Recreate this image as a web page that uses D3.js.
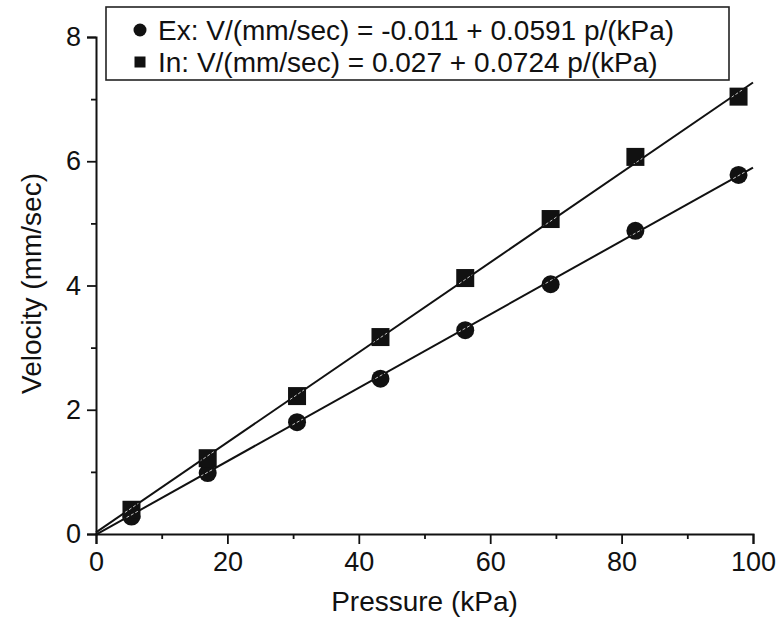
<!DOCTYPE html>
<html>
<head>
<meta charset="utf-8">
<script src="https://cdn.jsdelivr.net/npm/d3@7"></script>
<style>
  html, body { margin: 0; padding: 0; background: #fff; }
  svg { display: block; }
  text { font-family: "Liberation Sans", Arial, sans-serif; fill: #111; }
</style>
</head>
<body>
<svg id="chart" width="780" height="625"></svg>
<script>
// Measured pressure (kPa) and flow velocity (mm/sec)
const pressure = [5.4, 17.0, 30.6, 43.3, 56.2, 69.2, 82.1, 97.8];
const velocityEx = [0.28, 0.98, 1.80, 2.50, 3.28, 4.02, 4.88, 5.78];
const velocityIn = [0.39, 1.22, 2.22, 3.17, 4.12, 5.07, 6.07, 7.04];

// Linear fits: V = a + b p
const fitEx = { a: -0.011, b: 0.0591 };
const fitIn = { a: 0.027, b: 0.0724 };

const legendLabels = [
  "Ex: V/(mm/sec) = -0.011 + 0.0591 p/(kPa)",
  "In: V/(mm/sec) = 0.027 + 0.0724 p/(kPa)"
];

const xTicks = [0, 20, 40, 60, 80, 100];
const xMinor = [10, 30, 50, 70, 90];
const yTicks = [0, 2, 4, 6, 8];
const yMinor = [1, 3, 5, 7];

const svg = d3.select("#chart");
const x = d3.scaleLinear().domain([0, 100]).range([96, 753]);
const y = d3.scaleLinear().domain([0, 8]).range([534, 37]);

const ink = "#111";
const font = "'Liberation Sans', Arial, sans-serif";

// Axes
const xAxis = svg.append("g").attr("transform", `translate(0,${y(0)})`)
  .call(d3.axisBottom(x).tickValues(xTicks).tickSize(10).tickPadding(8).tickFormat(d3.format("d")));
const xAxisMinor = svg.append("g").attr("transform", `translate(0,${y(0)})`)
  .call(d3.axisBottom(x).tickValues(xMinor).tickSize(5).tickFormat(""));
const yAxis = svg.append("g").attr("transform", `translate(${x(0)},0)`)
  .call(d3.axisLeft(y).tickValues(yTicks).tickSize(9).tickPadding(6).tickFormat(d3.format("d")));
const yAxisMinor = svg.append("g").attr("transform", `translate(${x(0)},0)`)
  .call(d3.axisLeft(y).tickValues(yMinor).tickSize(5).tickFormat(""));

[xAxis, xAxisMinor, yAxis, yAxisMinor].forEach(g => {
  g.attr("font-size", 27).attr("font-family", font);
  g.select(".domain").attr("stroke", ink).attr("stroke-width", 2);
  g.selectAll(".tick line").attr("stroke", ink).attr("stroke-width", 1.8);
  g.selectAll(".tick text").attr("fill", ink);
});
xAxisMinor.select(".domain").remove();
yAxisMinor.select(".domain").remove();

// Axis titles
svg.append("text")
  .attr("x", x(50)).attr("y", 611)
  .attr("text-anchor", "middle").attr("font-size", 28)
  .text("Pressure (kPa)");
svg.append("text")
  .attr("transform", `translate(41,${y(4) - 2}) rotate(-90)`)
  .attr("text-anchor", "middle").attr("font-size", 28)
  .text("Velocity (mm/sec)");

// Fit lines
const line = d3.line().x(d => x(d[0])).y(d => y(d[1]));
const fitPts = f => [0, 100].map(p => [p, f.a + f.b * p]);
[fitEx, fitIn].forEach(f => {
  svg.append("path").attr("d", line(fitPts(f)))
    .attr("fill", "none").attr("stroke", ink).attr("stroke-width", 2);
});

// Markers
const exPts = pressure.map((p, i) => [p, velocityEx[i]]);
const inPts = pressure.map((p, i) => [p, velocityIn[i]]);
const r = 9, s = 18;

svg.append("g").selectAll("circle").data(exPts).join("circle")
  .attr("cx", d => x(d[0])).attr("cy", d => y(d[1])).attr("r", r)
  .attr("fill", ink);
svg.append("g").selectAll("rect").data(inPts).join("rect")
  .attr("x", d => x(d[0]) - s / 2).attr("y", d => y(d[1]) - s / 2)
  .attr("width", s).attr("height", s).attr("fill", ink);

// Faint trace of the fit line showing through the markers
const clip = svg.append("defs").append("clipPath").attr("id", "markerClip");
clip.selectAll("circle").data(exPts).join("circle")
  .attr("cx", d => x(d[0])).attr("cy", d => y(d[1])).attr("r", r - 2);
clip.selectAll("rect").data(inPts).join("rect")
  .attr("x", d => x(d[0]) - s / 2 + 2).attr("y", d => y(d[1]) - s / 2 + 2)
  .attr("width", s - 4).attr("height", s - 4);
[fitEx, fitIn].forEach(f => {
  svg.append("path").attr("d", line(fitPts(f)))
    .attr("clip-path", "url(#markerClip)")
    .attr("fill", "none").attr("stroke", "#ddd").attr("stroke-width", 0.9)
    .attr("stroke-dasharray", "3,2");
});

// Legend
const lg = svg.append("g");
lg.append("rect").attr("x", 106).attr("y", 7).attr("width", 623).attr("height", 73)
  .attr("fill", "#fff").attr("stroke", "#222").attr("stroke-width", 1.6);
const rowY = [30, 62];
lg.append("circle").attr("cx", 140).attr("cy", rowY[0]).attr("r", 6.5).attr("fill", ink);
lg.append("rect").attr("x", 134.5).attr("y", rowY[1] - 5.5).attr("width", 11).attr("height", 11).attr("fill", ink);
legendLabels.forEach((t, i) => {
  lg.append("text").attr("x", 158).attr("y", rowY[i] + 10)
    .attr("font-size", 28).text(t);
});
</script>
</body>
</html>
